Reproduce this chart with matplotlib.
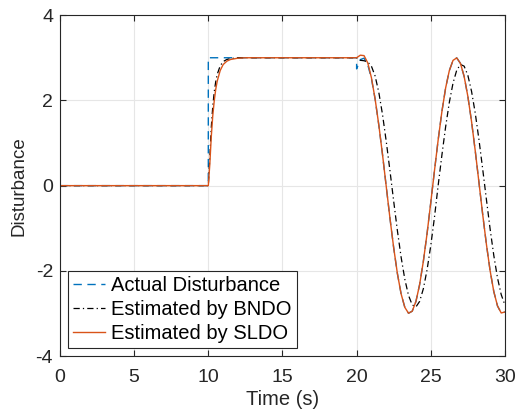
import matplotlib
matplotlib.use("Agg")
import matplotlib.pyplot as plt
import numpy as np

plt.rcParams['font.family'] = ['Liberation Sans', 'DejaVu Sans']
plt.rcParams['axes.unicode_minus'] = False

# time grid of the oscillating part (read every 0.25 s)
t_osc = np.arange(20, 30.001, 0.25)

# actual disturbance
t_act = [0, 10, 10, 20]
d_act = [0, 0, 3, 3]
d_act_osc = [2.739, 2.957, 2.990, 2.839, 2.510, 2.026, 1.412, 0.718, -0.027,
             -0.769, -1.459, -2.063, -2.539, -2.855, -2.993, -2.945, -2.717,
             -2.318, -1.776, -1.125, -0.397, 0.351, 1.077, 1.736, 2.288, 2.697,
             2.938, 2.997, 2.869, 2.562, 2.096, 1.504, 0.813, 0.073, -0.672,
             -1.372, -1.991, -2.485, -2.822, -2.987, -2.964]

# step response part (t = 0 .. 20)
t_step = [0, 10, 10.1, 10.2, 10.3, 10.4, 10.5, 10.6, 10.8, 11.0, 11.25, 11.5, 12, 12.5, 20]
d_bndo_step = [0, 0, 0.66, 1.37, 1.86, 2.20, 2.44, 2.61, 2.81, 2.91, 2.96, 2.98, 3.0, 3.0, 3.0]
d_sldo_step = [0, 0, 0.50, 1.15, 1.64, 1.99, 2.26, 2.45, 2.70, 2.84, 2.92, 2.96, 2.99, 3.0, 3.0]

d_bndo_osc = [2.96, 2.94, 2.93, 2.90, 2.80, 2.568, 2.181, 1.660, 1.031, 0.345,
              -0.366, -1.057, -1.677, -2.195, -2.576, -2.798, -2.845, -2.715,
              -2.418, -1.975, -1.406, -0.741, 0.010, 0.715, 1.375, 1.951, 2.404,
              2.708, 2.843, 2.803, 2.589, 2.212, 1.699, 1.076, 0.392, -0.319,
              -1.012, -1.638, -2.165, -2.556, -2.800]
d_sldo_osc = [3.0, 3.06, 3.05, 2.88, 2.53, 2.026, 1.412, 0.718, -0.027,
              -0.769, -1.459, -2.063, -2.539, -2.855, -2.993, -2.945, -2.717,
              -2.318, -1.776, -1.125, -0.397, 0.351, 1.077, 1.736, 2.288, 2.697,
              2.938, 2.997, 2.869, 2.562, 2.096, 1.504, 0.813, 0.073, -0.672,
              -1.372, -1.991, -2.485, -2.822, -2.987, -2.964]

t_a = np.concatenate([t_act, t_osc])
y_a = np.concatenate([d_act, d_act_osc])
t_e = np.concatenate([t_step, t_osc[1:]])
y_b = np.concatenate([d_bndo_step, d_bndo_osc[1:]])
y_s = np.concatenate([d_sldo_step, d_sldo_osc[1:]])

fig = plt.figure(figsize=(5.2, 4.2), dpi=100)
ax = fig.add_axes([0.1154, 0.152, 0.8556, 0.812])

ax.plot(t_a, y_a, color='#0072BD', lw=1.0, dashes=(6, 4), label='Actual Disturbance')
ax.plot(t_e, y_b, color='black', lw=0.9, dashes=(5, 2.5, 1, 2.5), label='Estimated by BNDO')
ax.plot(t_e, y_s, color='#D95319', lw=1.0, label='Estimated by SLDO')

ax.set_xlim(0, 30)
ax.set_ylim(-4, 4)
ax.set_xticks([0, 5, 10, 15, 20, 25, 30])
ax.set_yticks([-4, -2, 0, 2, 4])
ax.grid(True, color='#e6e6e6', lw=0.8)
ax.set_axisbelow(True)
ax.tick_params(direction='in', length=4, labelsize=14, colors='#262626', top=True, right=True,
               labeltop=False, labelright=False)
ax.tick_params(axis='x', pad=9)
ax.tick_params(axis='y', pad=5)
for s in ax.spines.values():
    s.set_color('#262626')
    s.set_linewidth(0.8)
ax.set_xlabel('Time (s)', fontsize=14.5, color='#262626', labelpad=3)
ax.set_ylabel('Disturbance', fontsize=13.5, color='#262626', labelpad=6)

leg = ax.legend(loc='lower left', fontsize=14.5, handlelength=1.6, handletextpad=0.3,
                borderpad=0.25, labelspacing=0.25, fancybox=False, framealpha=1,
                edgecolor='#262626', borderaxespad=0.4)
leg.get_frame().set_linewidth(0.8)

fig.savefig('out.png', dpi=100)
